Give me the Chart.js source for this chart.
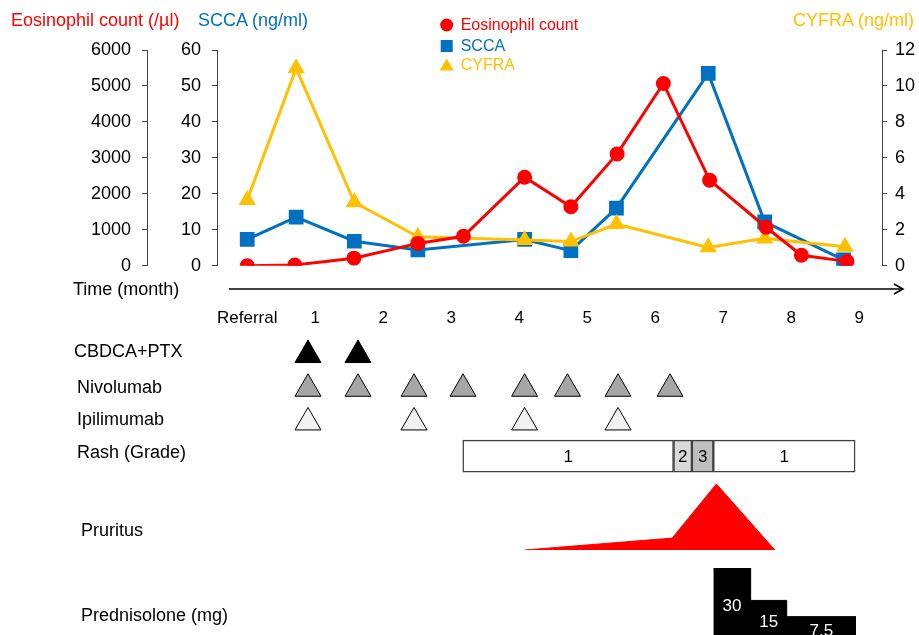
<!DOCTYPE html>
<html><head><meta charset="utf-8">
<script src="https://cdn.jsdelivr.net/npm/chart.js@4.4.1/dist/chart.umd.min.js"></script>
<style>
html,body{margin:0;padding:0;background:#fff;}
#wrap{position:relative;width:919px;height:635px;overflow:hidden;font-family:'Liberation Sans',Arial,sans-serif;background:#fff;}
canvas{position:absolute;left:0;}
.lbl{position:absolute;white-space:nowrap;line-height:18px;font-size:18px;color:#000;}
</style></head><body>
<div id="wrap">
<canvas id="cTop" width="919" height="340" style="top:0"></canvas>
<canvas id="cRows" width="919" height="145" style="top:330px"></canvas>
<canvas id="cPru" width="919" height="90" style="top:470px"></canvas>
<canvas id="cPred" width="919" height="80" style="top:555px"></canvas>
<div class="lbl" style="left:11px;top:11px;color:#ff0000">Eosinophil count (/µl)</div>
<div class="lbl" style="left:198px;top:11px;color:#0070c0">SCCA (ng/ml)</div>
<div class="lbl" style="left:793px;top:11px;color:#ffc000">CYFRA (ng/ml)</div>
<div class="lbl" style="left:73px;top:280px">Time (month)</div>
<div class="lbl" style="left:74px;top:342px">CBDCA+PTX</div>
<div class="lbl" style="left:77px;top:378px">Nivolumab</div>
<div class="lbl" style="left:77px;top:410px">Ipilimumab</div>
<div class="lbl" style="left:77px;top:443px">Rash (Grade)</div>
<div class="lbl" style="left:81px;top:521px">Pruritus</div>
<div class="lbl" style="left:81px;top:606px">Prednisolone (mg)</div>
</div>
<script>
// ---------- DATA ----------
const timeTicks = [0, 1, 2, 3, 4, 5, 6, 7, 8, 9];
const timeTickLabels = ['Referral', '1', '2', '3', '4', '5', '6', '7', '8', '9'];

const eosTime  = [0, 0.70, 1.57, 2.51, 3.18, 4.08, 4.76, 5.44, 6.12, 6.80, 7.63, 8.15, 8.82];
const eosCount = [0, 20, 210, 620, 820, 2460, 1640, 3110, 5070, 2380, 1070, 290, 120];

const sccaTime  = [0, 0.72, 1.575, 2.51, 4.08, 4.76, 5.43, 6.78, 7.61, 8.77];
const sccaValue = [7.3, 13.5, 6.8, 4.4, 7.3, 4.2, 16.0, 53.5, 12.2, 1.6];

const cyfraTime  = [0, 0.72, 1.575, 2.51, 4.08, 4.76, 5.43, 6.78, 7.61, 8.79];
const cyfraValue = [3.65, 10.98, 3.53, 1.61, 1.43, 1.34, 2.32, 1.02, 1.52, 1.06];

const rowLabels = ['CBDCA+PTX', 'Nivolumab', 'Ipilimumab', 'Rash (Grade)'];
const cbdcaTimes      = [0.894, 1.629];
const nivolumabTimes  = [0.894, 1.629, 2.453, 3.174, 4.079, 4.71, 5.453, 6.218];
const ipilimumabTimes = [0.894, 2.453, 4.079, 5.453];

const rashStart = [3.17, 6.27, 6.54, 6.855];
const rashEnd   = [6.27, 6.54, 6.855, 8.94];
const rashGrade = [1, 2, 3, 1];

const pruritusTime  = [4.08, 6.25, 6.90, 7.76];
const pruritusLevel = [0, 1.8, 10, 0];

const prednisoloneStart = [6.855, 7.404, 7.934];
const prednisoloneEnd   = 8.953;
const prednisoloneDose  = [30, 15, 7.5];

// ---------- STYLE / LAYOUT ----------
const FONT = "'Liberation Sans', Arial, sans-serif";
Chart.defaults.font.family = FONT;
const X_MIN = -0.4441, X_MAX = 9.3353;
const RED = '#ff0000', BLUE = '#0070c0', GOLD = '#ffc000', AXIS = '#404040';
const gradeFill = {1: '#ffffff', 2: '#d9d9d9', 3: '#bfbfbf'};

function pts(xs, ys) { return xs.map((x, i) => ({x: x, y: ys[i]})); }
function yAxis(pos, weight, max, step, width, padding) {
  return {
    type: 'linear', position: pos, weight: weight, min: 0, max: max,
    ticks: {stepSize: step, font: {size: 18}, color: '#000', padding: padding, callback: v => String(v)},
    grid: {display: true, drawOnChartArea: false, drawTicks: true, tickLength: 5, color: AXIS},
    border: {display: true, color: AXIS, width: 1},
    afterFit: s => { s.width = width; }
  };
}

const topDecor = {
  id: 'topDecor',
  afterDraw(chart) {
    const {ctx, chartArea} = chart;
    ctx.save();
    // time arrow
    const y = chartArea.bottom + 23.3;
    const x0 = chartArea.left + 12, x1 = chartArea.right + 21;
    ctx.strokeStyle = '#000'; ctx.lineWidth = 1.5;
    ctx.beginPath(); ctx.moveTo(x0, y); ctx.lineTo(x1, y); ctx.stroke();
    ctx.beginPath(); ctx.moveTo(x1 - 9, y - 5); ctx.lineTo(x1, y); ctx.lineTo(x1 - 9, y + 5); ctx.stroke();
    // legend
    const order = [0, 1, 2];
    const ly = [25, 46, 65];
    ctx.font = '16px ' + FONT; ctx.textBaseline = 'middle'; ctx.textAlign = 'left';
    order.forEach((di, k) => {
      const ds = chart.data.datasets[di];
      const cx = 446.7, cy = ly[k];
      ctx.fillStyle = ds.borderColor;
      ctx.beginPath();
      if (ds.pointStyle === 'circle') ctx.arc(cx, cy, 6.5, 0, Math.PI * 2);
      else if (ds.pointStyle === 'rect') ctx.rect(cx - 6, cy - 6, 12, 12);
      else { ctx.moveTo(cx, cy - 6.5); ctx.lineTo(cx + 7, cy + 5.5); ctx.lineTo(cx - 7, cy + 5.5); ctx.closePath(); }
      ctx.fill();
      ctx.fillText(ds.label, 460.7, cy + 1);
    });
    ctx.restore();
  }
};

new Chart(document.getElementById('cTop'), {
  type: 'line',
  data: {
    datasets: [
      {label: 'Eosinophil count', data: pts(eosTime, eosCount), yAxisID: 'yEos', borderColor: RED, backgroundColor: RED,
       pointStyle: 'circle', pointRadius: 6, borderWidth: 3, tension: 0, order: 1},
      {label: 'SCCA', data: pts(sccaTime, sccaValue), yAxisID: 'yScca', borderColor: BLUE, backgroundColor: BLUE,
       pointStyle: 'rect', pointRadius: 8.3, borderWidth: 3, tension: 0, order: 3},
      {label: 'CYFRA', data: pts(cyfraTime, cyfraValue), yAxisID: 'yCyfra', borderColor: GOLD, backgroundColor: GOLD,
       pointStyle: 'triangle', pointRadius: 7, borderWidth: 3, tension: 0, order: 2}
    ]
  },
  options: {
    responsive: false, animation: false,
    layout: {autoPadding: false, padding: {top: 50, left: 0, right: 0, bottom: 0}},
    plugins: {legend: {display: false}, tooltip: {enabled: false}},
    scales: {
      x: {
        type: 'linear', min: X_MIN, max: X_MAX,
        afterBuildTicks: s => { s.ticks = timeTicks.map(v => ({value: v})); },
        afterFit: s => { s.height = 74.3; },
        grid: {display: false, drawTicks: false},
        border: {display: false},
        ticks: {padding: 42, font: {size: 17}, color: '#000', autoSkip: false, maxRotation: 0,
                callback: (v, i) => timeTickLabels[i]}
      },
      yEos: yAxis('left', 2, 6000, 1000, 147, 11),
      yScca: yAxis('left', 1, 60, 10, 70, 11),
      yCyfra: yAxis('right', 0, 12, 2, 37, 8)
    }
  },
  plugins: [topDecor]
});

const rashText = {
  id: 'rashText',
  afterDatasetsDraw(chart) {
    const ctx = chart.ctx;
    const meta = chart.getDatasetMeta(0);
    ctx.save();
    ctx.font = '17px ' + FONT; ctx.fillStyle = '#000'; ctx.textAlign = 'center'; ctx.textBaseline = 'middle';
    meta.data.forEach((el, i) => {
      const p = el.getProps(['x', 'base', 'y'], true);
      ctx.fillText(String(rashGrade[i]), (p.x + p.base) / 2, p.y + 1);
    });
    ctx.restore();
  }
};

function tri(times, row, fill) {
  return {type: 'scatter', data: times.map(t => ({x: t, y: row})), pointStyle: 'triangle', pointRadius: 15,
          backgroundColor: fill, borderColor: '#000', borderWidth: 1, clip: false};
}

new Chart(document.getElementById('cRows'), {
  type: 'scatter',
  data: {
    datasets: [
      {type: 'bar', indexAxis: 'y', data: rashStart.map((s, i) => ({x: [s, rashEnd[i]], y: rowLabels[3]})),
       backgroundColor: rashGrade.map(g => gradeFill[g]), borderColor: AXIS, borderWidth: 1.5,
       borderSkipped: false, barThickness: 32, grouped: false, clip: false},
      tri(cbdcaTimes, rowLabels[0], '#000000'),
      tri(nivolumabTimes, rowLabels[1], '#a6a6a6'),
      tri(ipilimumabTimes, rowLabels[2], '#f2f2f2')
    ]
  },
  options: {
    responsive: false, animation: false,
    layout: {autoPadding: false, padding: {top: 8.2, bottom: 2, left: 217, right: 37}},
    plugins: {legend: {display: false}, tooltip: {enabled: false}},
    scales: {
      x: {type: 'linear', min: X_MIN, max: X_MAX, display: false},
      y: {type: 'category', labels: rowLabels, offset: true, display: false}
    }
  },
  plugins: [rashText]
});

new Chart(document.getElementById('cPru'), {
  type: 'line',
  data: {datasets: [{data: pts(pruritusTime, pruritusLevel), borderColor: RED, borderWidth: 1, backgroundColor: RED,
                     fill: 'origin', pointRadius: 0, tension: 0}]},
  options: {
    responsive: false, animation: false,
    layout: {autoPadding: false, padding: {top: 14, bottom: 10, left: 217, right: 37}},
    plugins: {legend: {display: false}, tooltip: {enabled: false}},
    scales: {
      x: {type: 'linear', min: X_MIN, max: X_MAX, display: false},
      y: {type: 'linear', min: 0, max: 10, display: false}
    }
  }
});

const predText = {
  id: 'predText',
  afterDatasetsDraw(chart) {
    const {ctx, chartArea} = chart;
    const xs = chart.scales.x, ys = chart.scales.y;
    ctx.save();
    ctx.font = '17px ' + FONT; ctx.fillStyle = '#fff'; ctx.textAlign = 'center'; ctx.textBaseline = 'middle';
    prednisoloneDose.forEach((d, i) => {
      const x0 = xs.getPixelForValue(prednisoloneStart[i]);
      const x1 = xs.getPixelForValue(i + 1 < prednisoloneStart.length ? prednisoloneStart[i + 1] : prednisoloneEnd);
      const yy = (ys.getPixelForValue(d) + chartArea.bottom + 10) / 2;
      ctx.fillText(String(d), (x0 + x1) / 2, yy);
    });
    ctx.restore();
  }
};

new Chart(document.getElementById('cPred'), {
  type: 'line',
  data: {datasets: [{
    data: pts(prednisoloneStart.concat([prednisoloneEnd]), prednisoloneDose.concat([prednisoloneDose[prednisoloneDose.length - 1]])),
    stepped: true, borderColor: '#000', borderWidth: 1, backgroundColor: '#000', fill: 'start', pointRadius: 0}]},
  options: {
    responsive: false, animation: false,
    layout: {autoPadding: false, padding: {top: 13, bottom: 0, left: 217, right: 37}},
    plugins: {legend: {display: false}, tooltip: {enabled: false}},
    scales: {
      x: {type: 'linear', min: X_MIN, max: X_MAX, display: false},
      y: {type: 'linear', min: -1, max: 30, display: false}
    }
  },
  plugins: [predText]
});
</script>
</body></html>
